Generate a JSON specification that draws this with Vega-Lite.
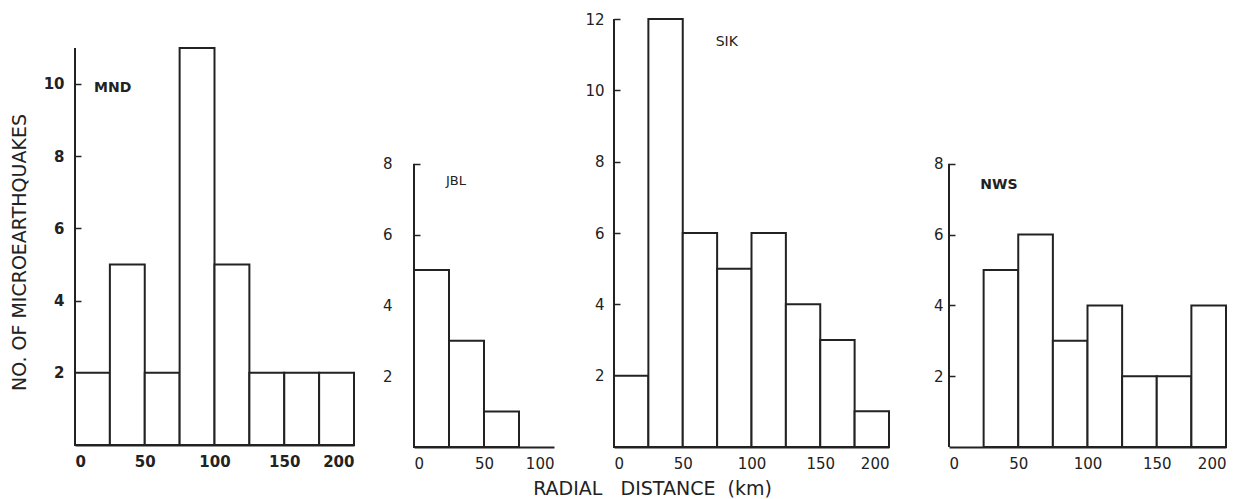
{
  "$schema": "https://vega.github.io/schema/vega-lite/v6.json",
  "background": "white",
  "padding": {"left": 10, "top": 12, "right": 5, "bottom": 2},
  "bounds": "flush",
  "spacing": 60,
  "config": {
    "view": {"stroke": null},
    "font": "DejaVu Sans",
    "axis": {"grid": false, "labelFont": "DejaVu Sans", "labelFontSize": 15, "labelColor": "#222", "titleFont": "DejaVu Sans", "titleColor": "#222", "titleFontWeight": "normal", "domainColor": "#222", "tickColor": "#222"},
    "axisX": {"domainWidth": 2, "ticks": false, "labelPadding": 9, "labelAngle": 0},
    "axisY": {"domain": false, "ticks": true, "zindex": 2, "offset": -6, "tickSize": 6, "tickWidth": 1.5, "tickColor": "#222", "labelPadding": 12}
  },
  "datasets": {
    "hist": [
      {"station": "MND", "start": 0, "end": 25, "count": 2},
      {"station": "MND", "start": 25, "end": 50, "count": 5},
      {"station": "MND", "start": 50, "end": 75, "count": 2},
      {"station": "MND", "start": 75, "end": 100, "count": 11},
      {"station": "MND", "start": 100, "end": 125, "count": 5},
      {"station": "MND", "start": 125, "end": 150, "count": 2},
      {"station": "MND", "start": 150, "end": 175, "count": 2},
      {"station": "MND", "start": 175, "end": 200, "count": 2},
      {"station": "JBL", "start": 0, "end": 25, "count": 5},
      {"station": "JBL", "start": 25, "end": 50, "count": 3},
      {"station": "JBL", "start": 50, "end": 75, "count": 1},
      {"station": "SIK", "start": 0, "end": 25, "count": 2},
      {"station": "SIK", "start": 25, "end": 50, "count": 12},
      {"station": "SIK", "start": 50, "end": 75, "count": 6},
      {"station": "SIK", "start": 75, "end": 100, "count": 5},
      {"station": "SIK", "start": 100, "end": 125, "count": 6},
      {"station": "SIK", "start": 125, "end": 150, "count": 4},
      {"station": "SIK", "start": 150, "end": 175, "count": 3},
      {"station": "SIK", "start": 175, "end": 200, "count": 1},
      {"station": "NWS", "start": 25, "end": 50, "count": 5},
      {"station": "NWS", "start": 50, "end": 75, "count": 6},
      {"station": "NWS", "start": 75, "end": 100, "count": 3},
      {"station": "NWS", "start": 100, "end": 125, "count": 4},
      {"station": "NWS", "start": 125, "end": 150, "count": 2},
      {"station": "NWS", "start": 150, "end": 175, "count": 2},
      {"station": "NWS", "start": 175, "end": 200, "count": 4}
    ],
    "one": [{}]
  },
  "hconcat": [
    {
      "width": 279, "height": 426,
      "layer": [
        {
          "data": {"name": "hist"},
          "transform": [{"filter": "datum.station === 'MND'"}],
          "mark": {"type": "bar", "fill": "white", "stroke": "#222", "strokeWidth": 2},
          "encoding": {
            "x": {"field": "start", "type": "quantitative", "scale": {"domain": [0, 200], "nice": false}, "axis": {"values": [0, 50, 100, 150, 200], "title": null, "labelFontWeight": "bold"}},
            "x2": {"field": "end"},
            "y": {"field": "count", "type": "quantitative", "scale": {"domain": [0, 11.8], "nice": false}, "axis": {"values": [2, 4, 6, 8, 10], "labelFontWeight": "bold", "labelPadding": 11, "title": "NO. OF MICROEARTHQUAKES", "titleFontSize": 19, "titleX": -52, "titleY": 233}},
            "y2": {"datum": 0}
          }
        },
        {
          "data": {"name": "one"},
          "mark": {"type": "rule", "stroke": "#222", "strokeWidth": 2},
          "encoding": {"x": {"datum": 0}, "y": {"datum": 0}, "y2": {"datum": 11}}
        },
        {
          "data": {"name": "one"},
          "mark": {"type": "text", "fontSize": 14, "fontWeight": "bold", "fill": "#222"},
          "encoding": {"x": {"datum": 27}, "y": {"datum": 9.9}, "text": {"value": "MND"}}
        }
      ]
    },
    {
      "width": 140, "height": 428,
      "layer": [
        {
          "data": {"name": "hist"},
          "transform": [{"filter": "datum.station === 'JBL'"}],
          "mark": {"type": "bar", "fill": "white", "stroke": "#222", "strokeWidth": 2},
          "encoding": {
            "x": {"field": "start", "type": "quantitative", "scale": {"domain": [0, 100], "nice": false}, "axis": {"values": [0, 50, 100], "title": null}},
            "x2": {"field": "end"},
            "y": {"field": "count", "type": "quantitative", "scale": {"domain": [0, 12.09], "nice": false}, "axis": {"values": [2, 4, 6, 8], "title": null, "labelPadding": 22}},
            "y2": {"datum": 0}
          }
        },
        {
          "data": {"name": "one"},
          "mark": {"type": "rule", "stroke": "#222", "strokeWidth": 2},
          "encoding": {"x": {"datum": 0}, "y": {"datum": 0}, "y2": {"datum": 8}}
        },
        {
          "data": {"name": "one"},
          "mark": {"type": "text", "fontSize": 13, "fill": "#222"},
          "encoding": {"x": {"datum": 30}, "y": {"datum": 7.5}, "text": {"value": "JBL"}}
        }
      ]
    },
    {
      "width": 275, "height": 428,
      "layer": [
        {
          "data": {"name": "hist"},
          "transform": [{"filter": "datum.station === 'SIK'"}],
          "mark": {"type": "bar", "fill": "white", "stroke": "#222", "strokeWidth": 2},
          "encoding": {
            "x": {"field": "start", "type": "quantitative", "scale": {"domain": [0, 200], "nice": false}, "axis": {"values": [0, 50, 100, 150, 200], "title": "RADIAL\u00a0\u00a0\u00a0DISTANCE\u00a0\u00a0(km)", "titleFontSize": 19, "titleX": 38, "titlePadding": 8}},
            "x2": {"field": "end"},
            "y": {"field": "count", "type": "quantitative", "scale": {"domain": [0, 12], "nice": false}, "axis": {"values": [2, 4, 6, 8, 10, 12], "title": null, "labelPadding": 10}},
            "y2": {"datum": 0}
          }
        },
        {
          "data": {"name": "one"},
          "mark": {"type": "rule", "stroke": "#222", "strokeWidth": 2},
          "encoding": {"x": {"datum": 0}, "y": {"datum": 0}, "y2": {"datum": 12}}
        },
        {
          "data": {"name": "one"},
          "mark": {"type": "text", "fontSize": 14, "fill": "#222"},
          "encoding": {"x": {"datum": 82}, "y": {"datum": 11.35}, "text": {"value": "SIK"}}
        }
      ]
    },
    {
      "width": 277, "height": 428,
      "layer": [
        {
          "data": {"name": "hist"},
          "transform": [{"filter": "datum.station === 'NWS'"}],
          "mark": {"type": "bar", "fill": "white", "stroke": "#222", "strokeWidth": 2},
          "encoding": {
            "x": {"field": "start", "type": "quantitative", "scale": {"domain": [0, 200], "nice": false}, "axis": {"values": [0, 50, 100, 150, 200], "title": null}},
            "x2": {"field": "end"},
            "y": {"field": "count", "type": "quantitative", "scale": {"domain": [0, 12.09], "nice": false}, "axis": {"values": [2, 4, 6, 8], "title": null, "labelPadding": 6}},
            "y2": {"datum": 0}
          }
        },
        {
          "data": {"name": "one"},
          "mark": {"type": "rule", "stroke": "#222", "strokeWidth": 2},
          "encoding": {"x": {"datum": 0}, "y": {"datum": 0}, "y2": {"datum": 8}}
        },
        {
          "data": {"name": "one"},
          "mark": {"type": "text", "fontSize": 14, "fontWeight": "bold", "fill": "#222"},
          "encoding": {"x": {"datum": 36}, "y": {"datum": 7.4}, "text": {"value": "NWS"}}
        }
      ]
    }
  ]
}
